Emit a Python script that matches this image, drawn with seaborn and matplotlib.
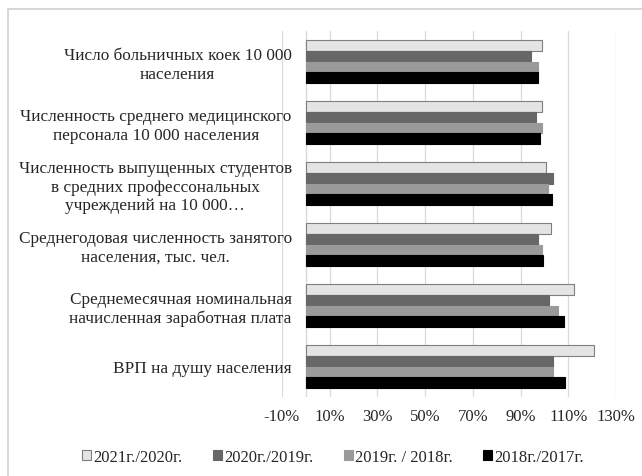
import matplotlib
matplotlib.use("Agg")
import matplotlib.pyplot as plt
import seaborn as sns
import pandas as pd
from matplotlib.patches import Rectangle, Patch

categories = [
    "Число больничных коек 10 000\nнаселения",
    "Численность среднего медицинского\nперсонала 10 000 населения",
    "Численность выпущенных студентов\nв средних профессональных\nучреждений на 10 000…",
    "Среднегодовая численность занятого\nнаселения, тыс. чел.",
    "Среднемесячная номинальная\nначисленная заработная плата",
    "ВРП на душу населения",
]
series = ["2021г./2020г.", "2020г./2019г.", "2019г. / 2018г.", "2018г./2017г."]
v2021 = [98.9, 99.0, 100.6, 102.9, 112.6, 120.9]
v2020 = [94.5, 96.4, 103.8, 97.5, 101.9, 103.8]
v2019 = [97.5, 99.0, 101.7, 98.9, 105.6, 103.8]
v2018 = [97.5, 98.2, 103.1, 99.6, 108.3, 108.7]
xticks = [-10, 10, 30, 50, 70, 90, 110, 130]

colors = ["#e4e4e4", "#676767", "#9a9a9a", "#000000"]
edges = ["#7f7f7f", "#676767", "#9a9a9a", "#000000"]

rows = []
for s, vals in zip(series, [v2021, v2020, v2019, v2018]):
    for c, v in zip(categories, vals):
        rows.append({"cat": c, "series": s, "value": v})
df = pd.DataFrame(rows)

sns.set_style("white")
plt.rcParams["font.family"] = ["Liberation Serif", "DejaVu Serif"]
FS = 12

fig = plt.figure(figsize=(6.42, 4.77), dpi=100)
ax = fig.add_axes([282/642, 1 - 398/477, (616-282)/642, (398-32)/477])

sns.barplot(data=df, y="cat", x="value", hue="series", order=categories,
            hue_order=series, palette=colors, orient="h", width=0.7,
            ax=ax, legend=False, saturation=1)

for i, cont in enumerate(ax.containers):
    for bar in cont:
        bar.set_edgecolor(edges[i])
        bar.set_linewidth(0.8)

ax.set_xlim(-10, 130)
ax.set_xticks(xticks)
ax.set_xticklabels([f"{t}%" for t in xticks], fontsize=FS)
ax.xaxis.grid(True, color="#d9d9d9", linewidth=0.9)
ax.set_axisbelow(True)
ax.axvline(0, color="#d9d9d9", linewidth=1.0, zorder=0.5)
for sp in ax.spines.values():
    sp.set_visible(False)
ax.set_xlabel("")
ax.set_ylabel("")
ax.tick_params(axis="both", length=0)
ax.tick_params(axis="x", pad=8)
ax.tick_params(axis="y", pad=-7)
ax.set_yticks(range(len(categories)))
ax.set_yticklabels(categories, fontsize=12.4, ha="right", multialignment="center")

handles = [Patch(facecolor=colors[i], edgecolor=edges[i], linewidth=0.8) for i in range(4)]
fig.legend(handles, series, loc="center", bbox_to_anchor=(333/642, 1 - 458/477),
           ncol=4, frameon=False, fontsize=FS, handlelength=0.55, handleheight=0.55,
           handletextpad=0.15, columnspacing=1.8)

fig.add_artist(Rectangle((8/642, -0.05), 1.0, 1 - 10/477 + 0.05, transform=fig.transFigure,
                         fill=False, edgecolor="#d0d0d0", linewidth=1.2))

fig.savefig("out.png", dpi=100)
